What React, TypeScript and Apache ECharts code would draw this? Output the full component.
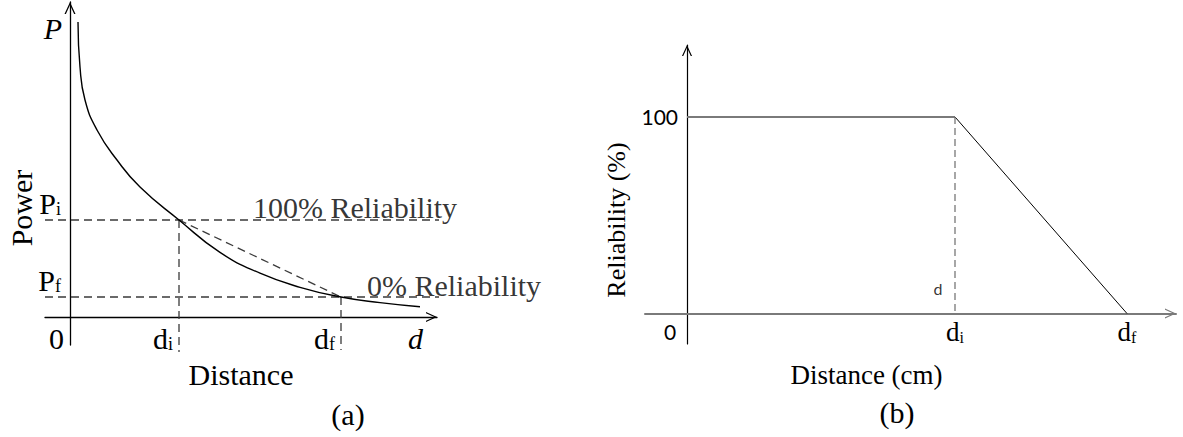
import React, { useEffect, useRef } from "react";
import * as echarts from "echarts";

// ---------- Panel (a): Power vs Distance ----------
const powerCurveD = [0.8, 1.0, 1.5, 2.7, 4.7, 7.0, 10.9, 15.0, 19.0, 23.0, 27.1, 31.0, 35.0];
const powerCurveP = [29.5, 25.0, 21.7, 18.7, 15.7, 13.0, 9.7, 6.46, 4.38, 2.97, 2.0, 1.44, 1.03];
const aDi = 10.9;
const aDf = 27.1;
const aPi = 9.7;
const aPf = 2.0;
const aXTickValues = [0, aDi, aDf, 35.9];
const aXTickLabels = ["{n|0}", "{n|d}{s|i}", "{n|d}{s|f}", "{it|d}"];
const aYTickValues = [aPi, aPf];
const aYTickLabels = ["{n|P}{s|i}", "{n|P}{s|f}"];
const aRefLineStart = -2.5;
const aRefLineEnd = 42.8;
const aDiDropEnd = -3.5;
const aDfDropEnd = -3.3;
const aRelTexts = ["100% Reliability", "0% Reliability"];
const aRelTextAt = [28.5, 38.4];

// ---------- Panel (b): Reliability vs Distance ----------
const bDistance = [0, 26.8, 44.0];
const bReliability = [100, 100, 0];
const bYTickValues = [100];
const bYTickLabels = ["100"];
const bXTickValues = [0, 26.8, 44.0];
const bXTickLabels = ["{z|0}", "{n|d}{s|i}", "{n|d}{s|f}"];
const bDMarkAt = 12.5;

const SERIF = '"Liberation Serif", "Times New Roman", serif';
const SANS = 'Lato, "Open Sans", sans-serif';
const CHEVRON = "path://M0,12 L5.5,0 L11,12 L9.6,12 L5.5,3 L1.4,12 Z";

function pick(values: number[], labels: string[]) {
  return (v: number) => {
    const i = values.findIndex((x) => Math.abs(x - v) < 1e-6);
    return i >= 0 ? labels[i] : "";
  };
}

export default function App() {
  const ref = useRef<HTMLDivElement>(null);

  useEffect(() => {
    if (!ref.current) return;
    const chart = echarts.init(ref.current, null, { renderer: "svg" });

    const richA = {
      n: { fontFamily: SERIF, fontSize: 30, lineHeight: 30, verticalAlign: "bottom", color: "#000" },
      it: { fontFamily: SERIF, fontSize: 30, lineHeight: 30, fontStyle: "italic", verticalAlign: "bottom", color: "#000" },
      s: { fontFamily: SERIF, fontSize: 18, lineHeight: 8, verticalAlign: "bottom", color: "#000" },
    };
    const richB = {
      n: { fontFamily: SERIF, fontSize: 27, lineHeight: 27, verticalAlign: "bottom", color: "#000" },
      s: { fontFamily: SERIF, fontSize: 16, lineHeight: 7, verticalAlign: "bottom", color: "#000" },
      z: { fontFamily: SANS, fontSize: 21, lineHeight: 21, padding: [4, 34, 0, 0], color: "#000" },
    };

    const dashA = { color: "#3a3a3a", width: 1.3, type: [8, 5] as any };
    const dashB = { color: "#777", width: 1.3, type: [7, 4] as any };

    const curve = powerCurveD.map((d, i) => [d, powerCurveP[i]]);
    const bLine = bDistance.map((d, i) => [d, bReliability[i]]);

    chart.setOption({
      animation: false,
      backgroundColor: "#fff",
      grid: [
        { left: 45, top: 2, width: 392, height: 343, outerBoundsMode: "none", containLabel: false },
        { left: 645, top: 45, width: 531, height: 299, outerBoundsMode: "none", containLabel: false },
      ],
      xAxis: [
        {
          type: "value",
          gridIndex: 0,
          min: -2.5,
          max: 36.7,
          offset: -28,
          name: "Distance",
          nameLocation: "middle",
          nameGap: 42,
          nameMoveOverlap: false,
          nameTextStyle: { fontFamily: SERIF, fontSize: 30, color: "#000" },
          axisLine: {
            show: true,
            onZero: false,
            symbol: ["none", CHEVRON],
            symbolSize: [11, 11],
            symbolOffset: [0, -5.5],
            lineStyle: { color: "#000", width: 1.3 },
          },
          axisTick: { show: false },
          splitLine: { show: false },
          axisLabel: {
            customValues: aXTickValues,
            formatter: pick(aXTickValues, aXTickLabels),
            rich: richA,
            align: "right",
            padding: [0, 6, 0, 0],
            margin: 6,
          },
        },
        {
          type: "value",
          gridIndex: 1,
          min: -4.2,
          max: 48.9,
          offset: -30.5,
          name: "Distance (cm)",
          nameLocation: "middle",
          nameGap: 48,
          nameMoveOverlap: false,
          nameTextStyle: { fontFamily: SERIF, fontSize: 27, color: "#000", padding: [0, 88, 0, 0] },
          axisLine: {
            show: true,
            onZero: false,
            symbol: ["none", CHEVRON],
            symbolSize: [12, 11],
            symbolOffset: [0, -5.5],
            lineStyle: { color: "#7a7a7a", width: 2 },
          },
          axisTick: { show: false },
          splitLine: { show: false },
          axisLabel: {
            customValues: bXTickValues,
            formatter: pick(bXTickValues, bXTickLabels),
            rich: richB,
            margin: 5,
          },
        },
      ],
      yAxis: [
        {
          type: "value",
          gridIndex: 0,
          min: -2.8,
          max: 31.5,
          offset: -25,
          name: "P",
          nameLocation: "end",
          nameGap: -26,
          nameMoveOverlap: false,
          nameTextStyle: {
            fontFamily: SERIF,
            fontSize: 30,
            fontStyle: "italic",
            color: "#000",
            align: "right",
            verticalAlign: "middle",
            padding: [0, 8, 0, 0],
          },
          axisLine: {
            show: true,
            onZero: false,
            symbol: ["none", CHEVRON],
            symbolSize: [11, 12],
            symbolOffset: [0, -6],
            lineStyle: { color: "#000", width: 1.3 },
          },
          axisTick: { show: false },
          splitLine: { show: false },
          axisLabel: {
            customValues: aYTickValues,
            formatter: pick(aYTickValues, aYTickLabels),
            rich: richA,
            align: "right",
            verticalAlign: "bottom",
            padding: [0, 0, 2, 0],
            margin: 9,
          },
        },
        {
          type: "value",
          gridIndex: 1,
          min: -15.5,
          max: 136.6,
          offset: -42,
          axisLine: {
            show: true,
            onZero: false,
            symbol: ["none", CHEVRON],
            symbolSize: [11, 11],
            symbolOffset: [0, -5.5],
            lineStyle: { color: "#000", width: 1.2 },
          },
          axisTick: { show: false },
          splitLine: { show: false },
          axisLabel: {
            customValues: bYTickValues,
            formatter: pick(bYTickValues, bYTickLabels),
            fontFamily: SANS,
            fontSize: 21,
            color: "#000",
            align: "right",
            padding: [8, 0, 0, 0],
            margin: 9,
          },
        },
      ],
      series: [
        // ---- panel (a)
        {
          type: "line",
          xAxisIndex: 0,
          yAxisIndex: 0,
          data: curve,
          smooth: 0.5,
          symbol: "none",
          lineStyle: { color: "#000", width: 1.4 },
          silent: true,
          z: 5,
        },
        {
          type: "line",
          xAxisIndex: 0,
          yAxisIndex: 0,
          data: [[aRefLineStart, aPi], [aRefLineEnd, aPi]],
          symbol: "none",
          clip: false,
          lineStyle: dashA,
          silent: true,
        },
        {
          type: "line",
          xAxisIndex: 0,
          yAxisIndex: 0,
          data: [[aRefLineStart, aPf], [aRefLineEnd, aPf]],
          symbol: "none",
          clip: false,
          lineStyle: dashA,
          silent: true,
        },
        {
          type: "line",
          xAxisIndex: 0,
          yAxisIndex: 0,
          data: [[aDi, aPi], [aDi, aDiDropEnd]],
          symbol: "none",
          clip: false,
          lineStyle: dashA,
          silent: true,
        },
        {
          type: "line",
          xAxisIndex: 0,
          yAxisIndex: 0,
          data: [[aDf, aPf], [aDf, aDfDropEnd]],
          symbol: "none",
          clip: false,
          lineStyle: dashA,
          silent: true,
        },
        {
          type: "line",
          xAxisIndex: 0,
          yAxisIndex: 0,
          data: [[aDi, aPi], [aDf, aPf]],
          symbol: "none",
          clip: false,
          lineStyle: dashA,
          silent: true,
        },
        {
          type: "scatter",
          xAxisIndex: 0,
          yAxisIndex: 0,
          symbolSize: 1,
          itemStyle: { color: "rgba(0,0,0,0)" },
          silent: true,
          clip: false,
          z: 10,
          data: [
            { value: [aRelTextAt[0], aPi], label: { offset: [0, 3] } },
            { value: [aRelTextAt[1], aPf], label: { offset: [0, 4] } },
          ],
          label: {
            show: true,
            position: "top",
            distance: 0,
            fontFamily: SERIF,
            fontSize: 30,
            color: "#000",
            textBorderWidth: 0,
            formatter: (p: any) => aRelTexts[p.dataIndex],
          },
        },
        // ---- panel (b)
        {
          type: "line",
          xAxisIndex: 1,
          yAxisIndex: 1,
          data: bLine.slice(0, 2),
          symbol: "none",
          lineStyle: { color: "#7a7a7a", width: 2 },
          silent: true,
        },
        {
          type: "line",
          xAxisIndex: 1,
          yAxisIndex: 1,
          data: bLine.slice(1, 3),
          symbol: "none",
          lineStyle: { color: "#000", width: 1 },
          silent: true,
        },
        {
          type: "line",
          xAxisIndex: 1,
          yAxisIndex: 1,
          data: [[bDistance[1], bReliability[1]], [bDistance[1], 0]],
          symbol: "none",
          lineStyle: dashB,
          silent: true,
        },
        {
          type: "scatter",
          xAxisIndex: 1,
          yAxisIndex: 1,
          symbolSize: 1,
          itemStyle: { color: "rgba(0,0,0,0)" },
          silent: true,
          data: [[bDistance[1], bDMarkAt]],
          label: {
            show: true,
            position: "left",
            distance: 12,
            fontFamily: SANS,
            fontSize: 16,
            color: "#000",
            textBorderWidth: 0,
            formatter: "d",
          },
        },
      ],
      graphic: [
        {
          type: "text",
          x: 21,
          y: 208,
          rotation: Math.PI / 2,
          style: { text: "Power", fontFamily: SERIF, fontSize: 30, fill: "#000", align: "center", verticalAlign: "middle" },
        },
        {
          type: "text",
          x: 616,
          y: 220,
          rotation: Math.PI / 2,
          style: { text: "Reliability (%)", fontFamily: SERIF, fontSize: 26, fill: "#000", align: "center", verticalAlign: "middle" },
        },
        {
          type: "text",
          x: 348,
          y: 414,
          style: { text: "(a)", fontFamily: SERIF, fontSize: 30, fill: "#000", align: "center", verticalAlign: "middle" },
        },
        {
          type: "text",
          x: 897,
          y: 412,
          style: { text: "(b)", fontFamily: SERIF, fontSize: 30, fill: "#000", align: "center", verticalAlign: "middle" },
        },
      ],
    });

    return () => chart.dispose();
  }, []);

  return (
    <div
      ref={ref}
      style={{ position: "absolute", left: 0, top: 0, width: 1183, height: 437, background: "#fff" }}
    />
  );
}
